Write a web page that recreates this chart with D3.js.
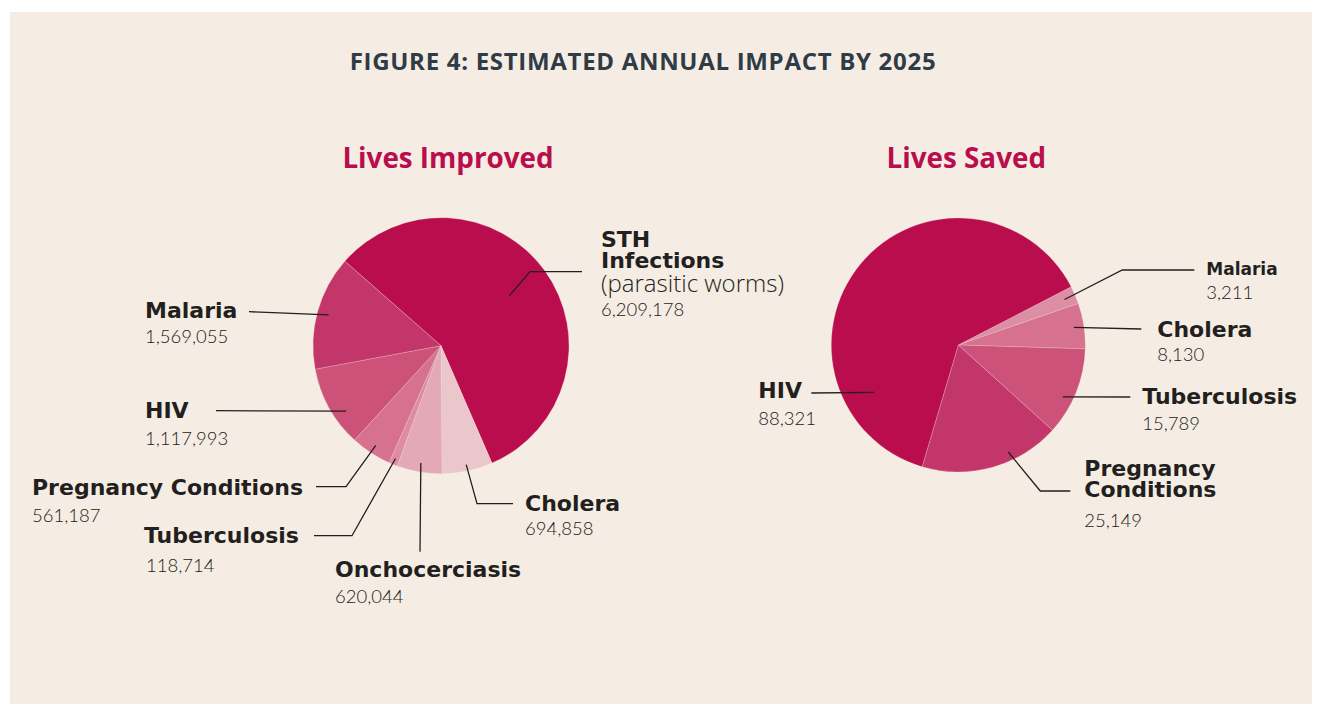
<!DOCTYPE html>
<html>
<head>
<meta charset="utf-8">
<script src="https://cdn.jsdelivr.net/npm/d3@7"></script>
<style>
  html, body { margin: 0; padding: 0; background: #fff; }
  svg { display: block; }
  .name { font-family: "DejaVu Sans", sans-serif; font-weight: 700; fill: #231f20; }
  .num { font-family: Lato, sans-serif; font-weight: 300; fill: #1d1a1b; }
  .sub { font-family: "Open Sans", sans-serif; font-weight: 300; fill: #231f20; }
  .head { font-family: "Open Sans", sans-serif; font-weight: 700; }
</style>
</head>
<body>
<script>
// Lives improved, clockwise from the STH slice
const improvedNames = ["STH Infections", "Cholera", "Onchocerciasis", "Tuberculosis", "Pregnancy Conditions", "HIV", "Malaria"];
const improvedValues = [6209178, 694858, 620044, 118714, 561187, 1117993, 1569055];
const improvedColors = ["#b90d4d", "#ebc6cb", "#e4a9b6", "#dd8ca4", "#d6718f", "#cc5279", "#c3366a"];

// Lives saved, clockwise from the Malaria slice
const savedNames = ["Malaria", "Cholera", "Tuberculosis", "Pregnancy Conditions", "HIV"];
const savedValues = [3211, 8130, 15789, 25149, 88321];
const savedColors = ["#dc8ea5", "#d6718f", "#cc5279", "#c3366a", "#b90d4d"];

const W = 1320, H = 704;
const fmt = d3.format(",");

const svg = d3.select("body").append("svg").attr("width", W).attr("height", H);

svg.append("rect").attr("x", 10).attr("y", 12).attr("width", 1302).attr("height", H - 12)
  .attr("fill", "#f5ede3");

svg.append("text").attr("class", "head")
  .attr("x", 643).attr("y", 70).attr("text-anchor", "middle")
  .attr("font-size", 24).attr("letter-spacing", 0.7).attr("fill", "#2f3b45")
  .text("FIGURE 4: ESTIMATED ANNUAL IMPACT BY 2025");

// label layout, offsets from the pie centre
// pts: leader points after the start; at: slice fraction for start; rf: start radius factor
const improvedLabels = [
  { at: 0.5, rf: 0.66, pts: [[89, -74], [141, -74]], x: 160, lines: [["STH", -99], ["Infections", -78]], sub: ["(parasitic worms)", -54], ny: -30 },
  { at: 0.5, rf: 0.95, pts: [[36, 158], [72, 158]], x: 84, lines: [["Cholera", 165]], ny: 189 },
  { at: 0.5, rf: 0.93, pts: [[-21, 206]], x: -106, lines: [["Onchocerciasis", 231]], ny: 257 },
  { at: 0.5, rf: 0.95, pts: [[-89, 190], [-127, 190]], x: -297, lines: [["Tuberculosis", 197]], ny: 226, nx: -295 },
  { at: 0.5, rf: 0.93, pts: [[-95, 141], [-125, 141]], x: -409, lines: [["Pregnancy Conditions", 149]], ny: 176 },
  { at: 0.35, rf: 0.9, pts: [[-225, 65]], x: -296, lines: [["HIV", 72]], ny: 99 },
  { at: 0.5, rf: 0.91, pts: [[-192, -34]], x: -296, lines: [["Malaria", -28]], ny: -3 }
];

const savedLabels = [
  { at: 0.5, rf: 0.91, pts: [[164, -75], [236, -75]], x: 248, lines: [["Malaria", -70]], ny: -46, small: true },
  { at: 0.5, rf: 0.92, pts: [[183, -16]], x: 199, lines: [["Cholera", -8]], ny: 16 },
  { at: 0.61, rf: 0.92, pts: [[172, 52]], x: 184, lines: [["Tuberculosis", 59]], ny: 85 },
  { at: 0.354, rf: 0.93, pts: [[82, 146], [112, 146]], x: 126, lines: [["Pregnancy", 131], ["Conditions", 152]], ny: 182 },
  { at: 0.195, rf: 0.76, pts: [[-147, 48]], x: -200, lines: [["HIV", 53]], ny: 80 }
];

function drawPie(opt) {
  const g = svg.append("g").attr("transform", `translate(${opt.cx},${opt.cy})`);
  const r = opt.r;

  const pie = d3.pie().sort(null).value(d => d.value)
    .startAngle(opt.start * Math.PI / 180)
    .endAngle(opt.start * Math.PI / 180 + 2 * Math.PI);
  const data = opt.names.map((n, i) => ({ name: n, value: opt.values[i], color: opt.colors[i] }));
  const arcs = pie(data);
  const arc = d3.arc().innerRadius(0).outerRadius(r);

  g.selectAll("path.slice").data(arcs).join("path")
    .attr("class", "slice")
    .attr("d", arc)
    .attr("fill", d => d.data.color)
    .attr("stroke", "#f5ede3").attr("stroke-width", 0.4).attr("stroke-opacity", 0.6);

  svg.append("text").attr("class", "head")
    .attr("x", opt.cx + opt.titleDx).attr("y", 168).attr("text-anchor", "middle")
    .attr("font-size", 27.8).attr("fill", "#b90d4d")
    .text(opt.title);

  arcs.forEach((a, i) => {
    const lab = opt.labels[i];
    const ang = a.startAngle + (a.endAngle - a.startAngle) * lab.at;
    const p0 = [Math.sin(ang) * r * lab.rf, -Math.cos(ang) * r * lab.rf];
    g.append("path")
      .attr("d", d3.line()([p0, ...lab.pts]))
      .attr("fill", "none").attr("stroke", "#231f20").attr("stroke-width", 1.3);

    const t = g.append("g");
    lab.lines.forEach(([txt, y]) => {
      t.append("text").attr("class", "name")
        .attr("x", lab.x).attr("y", y)
        .attr("font-size", lab.small ? 17 : 22)
        .text(txt);
    });
    if (lab.sub) {
      t.append("text").attr("class", "sub")
        .attr("x", lab.x).attr("y", lab.sub[1])
        .attr("font-size", 24)
        .text(lab.sub[0]);
    }
    t.append("text").attr("class", "num")
      .attr("x", lab.nx !== undefined ? lab.nx : lab.x).attr("y", lab.ny)
      .attr("font-size", 18.5)
      .text(fmt(a.data.value));
  });
}

drawPie({
  cx: 441, cy: 345.7, r: 128, start: -48.7, titleDx: 7, title: "Lives Improved",
  names: improvedNames, values: improvedValues, colors: improvedColors, labels: improvedLabels
});

drawPie({
  cx: 958.3, cy: 345, r: 127, start: 62.7, titleDx: 8, title: "Lives Saved",
  names: savedNames, values: savedValues, colors: savedColors, labels: savedLabels
});
</script>
</body>
</html>
